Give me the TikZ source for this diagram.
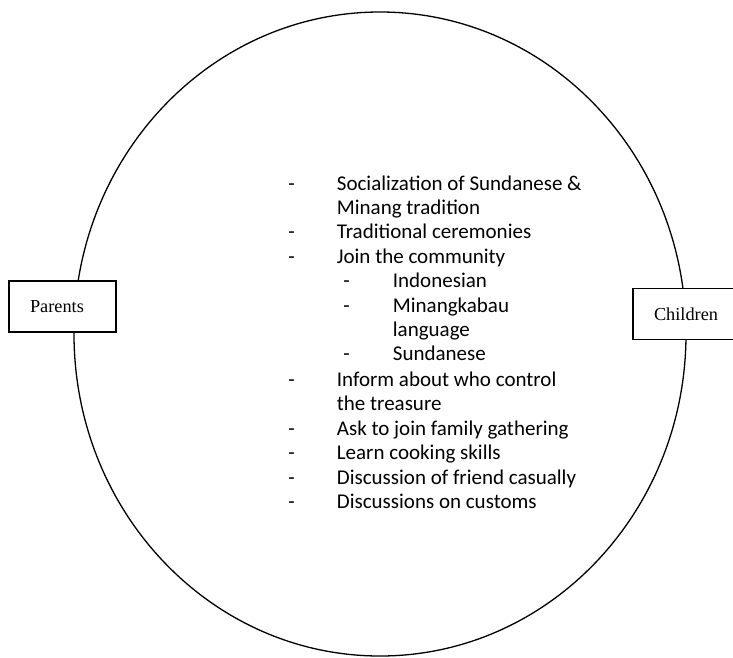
\documentclass[tikz,border=0pt]{standalone}
\usepackage{fontspec}
\setmainfont{Carlito}
\newfontfamily\timesfont{Liberation Serif}
\usetikzlibrary{shapes.geometric}

\begin{document}
\begin{tikzpicture}[
		x=1pt,y=-1pt,
		party/.style={draw,line width=1.3pt,fill=white,minimum height=51pt,text width=65pt,inner xsep=21pt,align=left,font=\timesfont\fontsize{18.3}{22}\selectfont},
		item/.style={anchor=base west,inner sep=0pt,font=\fontsize{21}{24}\selectfont},
		bullet/.style={anchor=base,inner sep=0pt,font=\fontsize{21}{24}\selectfont}
		]
		\useasboundingbox (0,0) rectangle (733,657);
		\node[draw,ellipse,line width=1.3pt,inner sep=0pt,minimum width=612pt,minimum height=644pt] (ring) at (380,334) {};

		\node[party] (parents) at (62.5,306.5) {Parents};
		\node[party] (children) at (686.5,314) {Children};

		\path (336.7,190) node[item] (soc) {Socialization of Sundanese \&}
		 ++(0,24.4) node[item] (minang) {Minang tradition}
		 ++(0,24.4) node[item] (trad) {Traditional ceremonies}
		 ++(0,24.4) node[item] (join) {Join the community}
		 ++(56,24.4) node[item] (indo) {Indonesian}
		 ++(0,24.4) node[item] (minangkabau) {Minangkabau}
		 ++(0,24.4) node[item] (lang) {language}
		 ++(0,24.4) node[item] (sunda) {Sundanese}
		 ++(-56,25.6) node[item] (inform) {Inform about who control}
		 ++(0,24.4) node[item] (treasure) {the treasure}
		 ++(0,24.4) node[item] (ask) {Ask to join family gathering}
		 ++(0,24.4) node[item] (learn) {Learn cooking skills}
		 ++(0,24.4) node[item] (friend) {Discussion of friend casually}
		 ++(0,24.4) node[item] (customs) {Discussions on customs};

		\node[bullet] (dash soc) at ([xshift=-45pt]soc.base west) {-};
		\node[bullet] (dash trad) at ([xshift=-45pt]trad.base west) {-};
		\node[bullet] (dash join) at ([xshift=-45pt]join.base west) {-};
		\node[bullet] (dash indo) at ([xshift=-46pt]indo.base west) {-};
		\node[bullet] (dash minangkabau) at ([xshift=-46pt]minangkabau.base west) {-};
		\node[bullet] (dash sunda) at ([xshift=-46pt]sunda.base west) {-};
		\node[bullet] (dash inform) at ([xshift=-45pt]inform.base west) {-};
		\node[bullet] (dash ask) at ([xshift=-45pt]ask.base west) {-};
		\node[bullet] (dash learn) at ([xshift=-45pt]learn.base west) {-};
		\node[bullet] (dash friend) at ([xshift=-45pt]friend.base west) {-};
		\node[bullet] (dash customs) at ([xshift=-45pt]customs.base west) {-};
	\end{tikzpicture}
\end{document}
